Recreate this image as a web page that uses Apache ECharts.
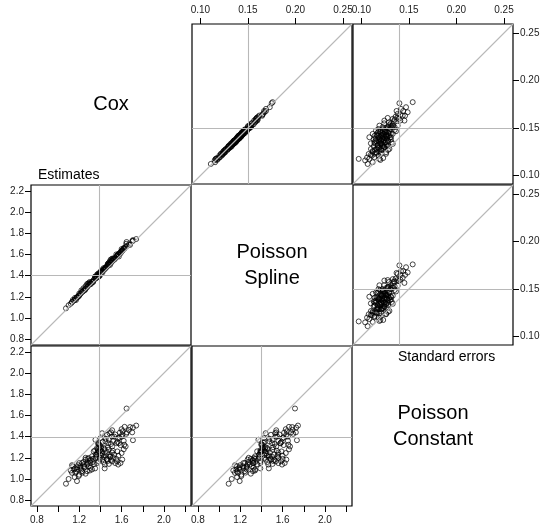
<!DOCTYPE html>
<html>
<head>
<meta charset="utf-8">
<script src="https://cdn.jsdelivr.net/npm/echarts@6/dist/echarts.min.js"></script>
<style>html,body{margin:0;padding:0;background:#fff;}#c{width:544px;height:528px;}</style>
</head>
<body>
<div id="c"></div>
<script>
// ---- data: per-replicate estimates (log hazard ratio) ----
const coxEst = [
 1.647,1.738,1.707,1.628,1.511,1.486,1.584,1.606,1.644,1.568,
 1.353,1.707,1.553,1.574,1.473,1.511,1.625,1.480,1.600,1.385,
 1.369,1.337,1.359,1.321,1.401,1.448,1.496,1.463,1.511,1.558,
 1.568,1.259,1.227,1.243,1.132,1.179,1.274,1.321,1.164,1.195,
 1.157,1.179,1.075,1.416,1.385,1.306,1.211,1.274,1.511,1.480,
 1.448,1.669,1.517,1.432,1.410,1.378,1.353,1.290,1.306,1.227,
 1.132,1.442,1.480,1.606,1.590,1.638,1.416,1.401,1.463,1.369,
 1.390,1.400,1.370,1.420,1.360,1.330,1.300,1.250,1.210,1.180,
 1.150,1.290,1.460,1.490,1.530,1.560,1.540,1.580,1.450,1.500,
 1.120,1.230,1.340,1.430,1.620,1.600,1.700,1.260,1.410,1.380,
 1.380,1.395,1.375,1.405,1.385,1.365,1.410,1.395,1.350,1.420,
 1.160,1.190,1.220,1.250,1.280,1.200,1.170,1.240,1.310,1.140,
 1.470,1.500,1.520,1.540,1.480,1.510,1.570,1.550,1.460,1.430,
 1.520,1.530,1.560,1.600,1.470,1.440,1.590,1.650,1.610,1.500,
 1.330,1.280,1.350,1.300,1.200,1.100,1.260,1.440,1.620,1.680];
const splEst = [
 1.717,1.745,1.728,1.660,1.540,1.530,1.615,1.635,1.700,1.600,
 1.372,1.735,1.580,1.580,1.500,1.540,1.655,1.505,1.630,1.410,
 1.410,1.360,1.380,1.340,1.425,1.470,1.550,1.490,1.535,1.585,
 1.595,1.270,1.245,1.260,1.150,1.195,1.320,1.340,1.180,1.210,
 1.170,1.195,1.091,1.440,1.390,1.325,1.230,1.290,1.535,1.505,
 1.475,1.695,1.545,1.455,1.435,1.400,1.375,1.330,1.325,1.245,
 1.150,1.465,1.505,1.635,1.620,1.670,1.440,1.425,1.490,1.390,
 1.415,1.425,1.390,1.445,1.380,1.340,1.320,1.270,1.225,1.195,
 1.165,1.310,1.485,1.500,1.555,1.590,1.570,1.610,1.475,1.525,
 1.135,1.250,1.360,1.455,1.650,1.630,1.725,1.280,1.435,1.400,
 1.420,1.400,1.410,1.440,1.395,1.380,1.450,1.430,1.390,1.430,
 1.190,1.200,1.260,1.260,1.320,1.230,1.170,1.280,1.320,1.170,
 1.510,1.520,1.560,1.560,1.520,1.560,1.600,1.600,1.480,1.470,
 1.560,1.550,1.590,1.650,1.510,1.460,1.610,1.680,1.640,1.540,
 1.340,1.300,1.390,1.340,1.210,1.120,1.300,1.470,1.660,1.690];
const conEst = [
 1.665,1.504,1.485,1.492,1.460,1.432,1.438,1.417,1.426,1.385,
 1.370,1.366,1.338,1.338,1.338,1.307,1.323,1.277,1.245,1.323,
 1.292,1.261,1.230,1.214,1.230,1.223,1.214,1.183,1.167,1.167,
 1.136,1.183,1.151,1.121,1.130,1.090,1.074,1.090,1.058,1.027,
 1.018,0.980,0.955,1.183,1.167,1.151,1.105,1.136,1.400,1.370,
 1.354,1.463,1.267,1.292,1.261,1.261,1.198,1.198,1.105,1.074,
 1.058,1.136,1.142,1.183,1.151,1.307,1.432,1.385,1.417,1.151,
 1.300,1.270,1.250,1.240,1.210,1.190,1.170,1.140,1.120,1.110,
 1.090,1.120,1.190,1.210,1.230,1.260,1.420,1.390,1.380,1.330,
 1.080,1.060,1.140,1.160,1.360,1.470,1.440,1.200,1.290,1.330,
 1.340,1.320,1.280,1.300,1.260,1.230,1.220,1.200,1.270,1.350,
 1.100,1.130,1.090,1.110,1.150,1.150,1.070,1.160,1.180,1.120,
 1.170,1.180,1.200,1.150,1.230,1.250,1.220,1.190,1.250,1.210,
 1.360,1.400,1.350,1.400,1.300,1.280,1.320,1.440,1.450,1.440,
 1.160,1.190,1.100,1.080,1.040,1.000,1.050,1.100,1.280,1.490];
// ---- data: per-replicate standard errors ----
const coxSE = [
 0.1176,0.1228,0.1123,0.1141,0.1281,0.1404,0.1762,0.1773,0.1720,0.1702,
 0.1667,0.1632,0.1650,0.1597,0.1597,0.1607,0.1579,0.1579,0.1526,0.1526,
 0.1526,0.1474,0.1474,0.1474,0.1467,0.1439,0.1421,0.1421,0.1404,0.1368,
 0.1352,0.1352,0.1334,0.1299,0.1299,0.1281,0.1246,0.1228,0.1246,0.1194,
 0.1176,0.1176,0.1510,0.1510,0.1400,0.1420,0.1440,0.1460,0.1380,0.1390,
 0.1410,0.1430,0.1450,0.1360,0.1340,0.1330,0.1370,0.1390,0.1420,0.1320,
 0.1300,0.1280,0.1310,0.1350,0.1370,0.1490,0.1270,0.1240,0.1210,0.1310,
 0.1390,0.1500,0.1550,0.1570,0.1530,0.1510,0.1620,0.1640,0.1680,0.1680,
 0.1460,0.1490,0.1550,0.1220,0.1260,0.1190,0.1160,0.1340,0.1310,0.1380,
 0.1440,0.1480,0.1240,0.1450,0.1420,0.1270,0.1230,0.1185,0.1165,0.1590,
 0.1400,0.1420,0.1380,0.1360,0.1440,0.1460,0.1340,0.1320,0.1390,0.1410,
 0.1430,0.1370,0.1350,0.1450,0.1480,0.1330,0.1310,0.1290,0.1360,0.1400,
 0.1500,0.1520,0.1540,0.1470,0.1430,0.1280,0.1260,0.1300,0.1380,0.1340,
 0.1410,0.1450,0.1390,0.1370,0.1420,0.1330,0.1460,0.1490,0.1310,0.1270,
 0.1580,0.1610,0.1560,0.1630,0.1250,0.1210,0.1230,0.1350,0.1440,0.1510];
const splSE = [
 0.1160,0.1235,0.1110,0.1155,0.1270,0.1420,0.1750,0.1760,0.1730,0.1690,
 0.1675,0.1620,0.1660,0.1585,0.1605,0.1595,0.1590,0.1565,0.1535,0.1515,
 0.1540,0.1465,0.1485,0.1460,0.1475,0.1450,0.1410,0.1430,0.1415,0.1355,
 0.1360,0.1340,0.1345,0.1290,0.1310,0.1270,0.1255,0.1220,0.1235,0.1205,
 0.1165,0.1185,0.1500,0.1520,0.1390,0.1430,0.1450,0.1450,0.1390,0.1380,
 0.1400,0.1440,0.1440,0.1370,0.1330,0.1345,0.1360,0.1400,0.1410,0.1330,
 0.1290,0.1290,0.1300,0.1360,0.1360,0.1500,0.1260,0.1250,0.1200,0.1320,
 0.1380,0.1510,0.1540,0.1580,0.1520,0.1520,0.1610,0.1650,0.1670,0.1690,
 0.1450,0.1500,0.1540,0.1230,0.1250,0.1200,0.1150,0.1350,0.1300,0.1390,
 0.1430,0.1490,0.1250,0.1460,0.1410,0.1260,0.1240,0.1175,0.1175,0.1580,
 0.1415,0.1400,0.1395,0.1345,0.1455,0.1440,0.1360,0.1310,0.1410,0.1395,
 0.1445,0.1355,0.1370,0.1470,0.1460,0.1345,0.1295,0.1305,0.1380,0.1385,
 0.1520,0.1500,0.1560,0.1490,0.1415,0.1290,0.1245,0.1320,0.1370,0.1325,
 0.1430,0.1435,0.1405,0.1385,0.1435,0.1315,0.1475,0.1475,0.1330,0.1285,
 0.1600,0.1595,0.1575,0.1650,0.1265,0.1225,0.1215,0.1365,0.1425,0.1530];
const conSE = [
 0.0972,0.1077,0.1066,0.1119,0.1101,0.1084,0.1400,0.1540,0.1470,0.1417,
 0.1487,0.1435,0.1382,0.1393,0.1330,0.1277,0.1242,0.1453,0.1382,0.1330,
 0.1190,0.1154,0.1224,0.1295,0.1364,0.1119,0.1172,0.1259,0.1312,0.1206,
 0.1137,0.1259,0.1330,0.1172,0.1242,0.1295,0.1154,0.1206,0.1259,0.1137,
 0.1190,0.1084,0.1224,0.1277,0.1180,0.1210,0.1230,0.1250,0.1190,0.1220,
 0.1240,0.1260,0.1280,0.1160,0.1200,0.1220,0.1240,0.1270,0.1290,0.1170,
 0.1190,0.1210,0.1230,0.1250,0.1280,0.1300,0.1140,0.1160,0.1180,0.1130,
 0.1150,0.1260,0.1310,0.1340,0.1290,0.1320,0.1360,0.1410,0.1370,0.1440,
 0.1200,0.1180,0.1240,0.1100,0.1120,0.1060,0.1040,0.1100,0.1270,0.1310,
 0.1330,0.1350,0.1210,0.1170,0.1140,0.1280,0.1260,0.1230,0.1200,0.1350,
 0.1200,0.1180,0.1220,0.1190,0.1240,0.1260,0.1210,0.1170,0.1250,0.1270,
 0.1210,0.1150,0.1230,0.1290,0.1250,0.1260,0.1220,0.1180,0.1280,0.1300,
 0.1280,0.1310,0.1330,0.1200,0.1160,0.1160,0.1190,0.1240,0.1130,0.1140,
 0.1230,0.1220,0.1190,0.1210,0.1270,0.1200,0.1180,0.1230,0.1280,0.1210,
 0.1410,0.1380,0.1290,0.1460,0.1120,0.1110,0.1140,0.1320,0.1310,0.1350];
// reference values (gray lines) for Cox, Poisson Spline, Poisson Constant
const estRef = [1.385, 1.395, 1.39];
const seRef = [0.150, 0.1535, 0.1364];
const varNames = ['Cox', 'Poisson\nSpline', 'Poisson\nConstant'];
const estTicks = [0.8, 1.0, 1.2, 1.4, 1.6, 1.8, 2.0, 2.2];
const estBottomLabels = [0.8, 1.2, 1.6, 2.0];
const seTicks = [0.10, 0.15, 0.20, 0.25];
const estRange = [0.745, 2.255];
const seRange = [0.0912, 0.2595];

const est = [coxEst, splEst, conEst];
const se = [coxSE, splSE, conSE];

const lefts = [31, 192, 353], tops = [24, 185, 346], S = 160;
const FONT = "'Liberation Sans', Arial, Helvetica, sans-serif";
const grids = [], xAxes = [], yAxes = [], series = [], graphics = [];
const lbl = {fontFamily: FONT, fontSize: 10, color: '#222'};

let g = 0;
for (let i = 0; i < 3; i++) {
  for (let j = 0; j < 3; j++) {
    if (i === j) continue;
    const upper = i < j;
    const range = upper ? seRange : estRange;
    const xs = upper ? se[j] : est[j];
    const ys = upper ? se[i] : est[i];
    const rx = upper ? seRef[j] : estRef[j];
    const ry = upper ? seRef[i] : estRef[i];
    const fmt = upper ? (v => Number(v).toFixed(2)) : (v => Number(v).toFixed(1));
    grids.push({left: lefts[j], top: tops[i], width: S, height: S, show: true,
      borderColor: '#000', borderWidth: 1.2, backgroundColor: 'transparent', containLabel: false});
    const xTop = upper && i === 0;
    const xBot = !upper && i === 2;
    xAxes.push({type: 'value', gridIndex: g, min: range[0], max: range[1],
      position: xTop ? 'top' : 'bottom',
      axisLine: {show: false}, splitLine: {show: false},
      axisTick: {show: xTop || xBot, length: 6, inside: false,
        lineStyle: {color: '#000', width: 1},
        customValues: upper ? seTicks : estTicks},
      axisLabel: {show: xTop || xBot, margin: 9, ...lbl, formatter: fmt,
        customValues: upper ? seTicks : estBottomLabels}});
    const yLeft = !upper && j === 0;
    const yRight = upper && j === 2;
    yAxes.push({type: 'value', gridIndex: g, min: range[0], max: range[1],
      position: yRight ? 'right' : 'left',
      axisLine: {show: false}, splitLine: {show: false},
      axisTick: {show: yLeft || yRight, length: 6, inside: false,
        lineStyle: {color: '#000', width: 1},
        customValues: upper ? seTicks : estTicks},
      axisLabel: {show: yLeft || yRight, margin: 7, ...lbl, formatter: fmt,
        customValues: upper ? seTicks : estTicks}});
    const pts = xs.map((v, k) => [v, ys[k]]);
    series.push({type: 'scatter', xAxisIndex: g, yAxisIndex: g, data: pts,
      symbol: 'circle', symbolSize: 5,
      itemStyle: {color: 'rgba(0,0,0,0)', borderColor: '#000', borderWidth: 0.9},
      emphasis: {disabled: true}, silent: true,
      markLine: {silent: true, symbol: 'none', animation: false,
        label: {show: false},
        lineStyle: {color: '#b8b8b8', width: 1.1, type: 'solid'},
        emphasis: {disabled: true},
        data: [
          {xAxis: rx}, {yAxis: ry},
          [{coord: [range[0], range[0]]}, {coord: [range[1], range[1]]}]
        ]}});
    g++;
  }
}
for (let d = 0; d < 3; d++) {
  graphics.push({type: 'text', x: lefts[d] + S / 2, y: tops[d] + S / 2,
    style: {text: varNames[d], font: "20px 'Liberation Sans', Arial, sans-serif",
      fill: '#000', align: 'center', verticalAlign: 'middle', lineHeight: 26}});
}
graphics.push({type: 'text', x: 38, y: 175,
  style: {text: 'Estimates', font: "14px 'Liberation Sans', Arial, sans-serif",
    fill: '#000', align: 'left', verticalAlign: 'middle'}});
graphics.push({type: 'text', x: 398, y: 357,
  style: {text: 'Standard errors', font: "14px 'Liberation Sans', Arial, sans-serif",
    fill: '#000', align: 'left', verticalAlign: 'middle'}});

const chart = echarts.init(document.getElementById('c'), null, {renderer: 'canvas'});
chart.setOption({animation: false, backgroundColor: '#fff',
  grid: grids, xAxis: xAxes, yAxis: yAxes, series: series, graphic: graphics});
</script>
</body>
</html>
